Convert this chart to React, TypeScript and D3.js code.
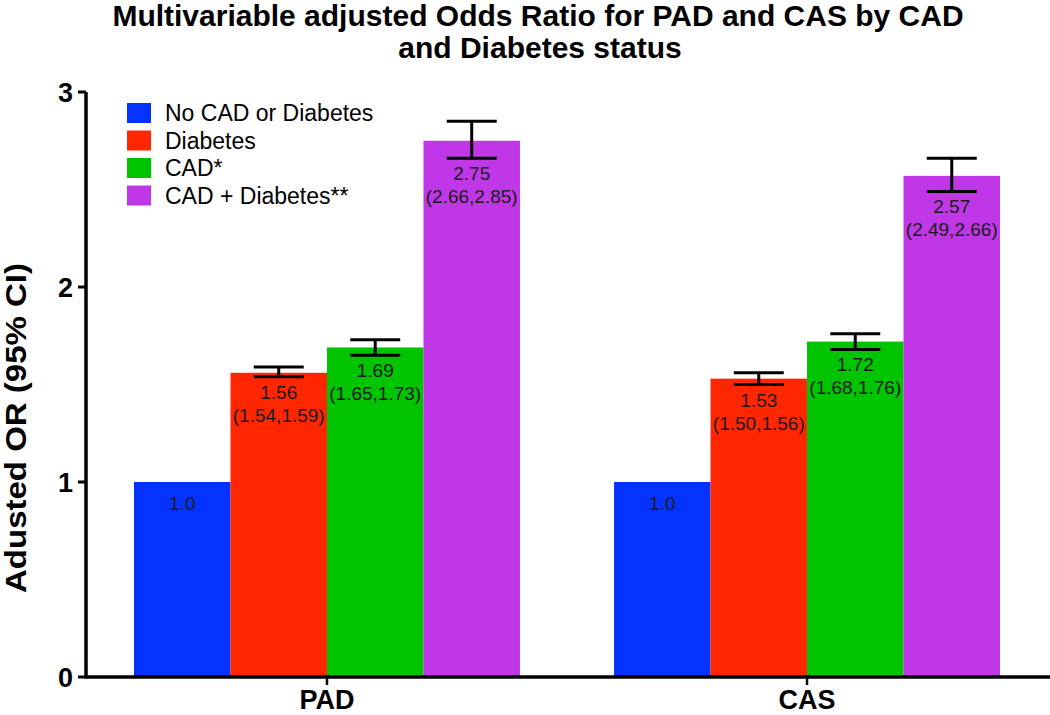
import { useMemo } from "react";
import * as d3 from "d3";

// Chart size and plot bounds
const WIDTH = 1050;
const HEIGHT = 715;
const MARGIN = { top: 92, right: 2, bottom: 38, left: 86 };
const FONT = "'Liberation Sans', Arial, sans-serif";

const GROUPS = ["PAD", "CAS"];
const SERIES = ["No CAD or Diabetes", "Diabetes", "CAD*", "CAD + Diabetes**"];
const COLORS = ["#0433ff", "#ff2600", "#00c400", "#bf37e6"];

// odds ratio per group, in series order
const PAD_OR = [1.0, 1.56, 1.69, 2.75];
const PAD_LOW = [null, 1.54, 1.65, 2.66];
const PAD_HIGH = [null, 1.59, 1.73, 2.85];
const CAS_OR = [1.0, 1.53, 1.72, 2.57];
const CAS_LOW = [null, 1.5, 1.68, 2.49];
const CAS_HIGH = [null, 1.56, 1.76, 2.66];

const Y_TICKS = [0, 1, 2, 3];

type Bar = {
  group: string;
  series: string;
  color: string;
  value: number;
  low: number | null;
  high: number | null;
};

const App = () => {
  const boundsWidth = WIDTH - MARGIN.left - MARGIN.right;
  const boundsHeight = HEIGHT - MARGIN.top - MARGIN.bottom;

  const bars: Bar[] = useMemo(() => {
    const rows = [
      { group: "PAD", or: PAD_OR, low: PAD_LOW, high: PAD_HIGH },
      { group: "CAS", or: CAS_OR, low: CAS_LOW, high: CAS_HIGH },
    ];
    return rows.flatMap((r) =>
      SERIES.map((s, i) => ({
        group: r.group,
        series: s,
        color: COLORS[i],
        value: r.or[i],
        low: r.low[i],
        high: r.high[i],
      }))
    );
  }, []);

  const xScale = d3
    .scaleBand()
    .domain(GROUPS)
    .range([0, boundsWidth])
    .paddingInner(0.196)
    .paddingOuter(0.1);
  const subScale = d3
    .scaleBand()
    .domain(SERIES)
    .range([0, xScale.bandwidth()]);
  const yScale = d3.scaleLinear().domain([0, 3]).range([boundsHeight, 0]);

  const fmt = (v: number) => (v === 1 ? "1.0" : v.toFixed(2));

  return (
    <div style={{ position: "absolute", left: 0, top: 0 }}>
      <svg width={WIDTH} height={HEIGHT} style={{ display: "block" }} fontFamily={FONT}>
        <rect width={WIDTH} height={HEIGHT} fill="white" />
        {/* Title */}
        <text x={538} y={26} textAnchor="middle" fontSize={30} fontWeight="bold">
          Multivariable adjusted Odds Ratio for PAD and CAS by CAD
        </text>
        <text x={540} y={58} textAnchor="middle" fontSize={30} fontWeight="bold">
          and Diabetes status
        </text>

        {/* Y axis title */}
        <text
          transform="translate(26, 428) rotate(-90)"
          textAnchor="middle"
          fontSize={29}
          fontWeight="bold"
          textLength={330}
          lengthAdjust="spacingAndGlyphs"
        >
          Adusted OR (95% CI)
        </text>

        <g transform={`translate(${MARGIN.left}, ${MARGIN.top})`}>
          {/* Bars */}
          {bars.map((b) => {
            const x = (xScale(b.group) ?? 0) + (subScale(b.series) ?? 0);
            const w = subScale.bandwidth();
            const cx = x + w / 2;
            const top = yScale(b.value);
            const labelY = b.low === null ? top + 28 : yScale(b.low) + 22;
            return (
              <g key={b.group + b.series}>
                <rect x={x} y={top} width={w} height={boundsHeight - top} fill={b.color} />
                {b.low !== null && b.high !== null && (
                  <g stroke="black" strokeWidth={3}>
                    <line x1={cx} x2={cx} y1={yScale(b.high)} y2={yScale(b.low)} />
                    <line x1={cx - 25} x2={cx + 25} y1={yScale(b.high)} y2={yScale(b.high)} />
                    <line x1={cx - 25} x2={cx + 25} y1={yScale(b.low)} y2={yScale(b.low)} />
                  </g>
                )}
                <text x={cx} y={labelY} textAnchor="middle" fontSize={19} fill="#1a1a1a">
                  {fmt(b.value)}
                </text>
                {b.low !== null && b.high !== null && (
                  <text x={cx} y={labelY + 23} textAnchor="middle" fontSize={19} fill="#1a1a1a">
                    ({fmt(b.low)},{fmt(b.high)})
                  </text>
                )}
              </g>
            );
          })}

          {/* Y axis */}
          <line x1={0} x2={0} y1={0} y2={boundsHeight + 1.5} stroke="black" strokeWidth={3.5} />
          {Y_TICKS.map((t) => (
            <g key={t} transform={`translate(0, ${yScale(t)})`}>
              <line x1={-8} x2={0} stroke="black" strokeWidth={3} />
              <text x={-13} dy="0.36em" textAnchor="end" fontSize={27} fontWeight="bold">
                {t}
              </text>
            </g>
          ))}

          {/* X axis */}
          <g transform={`translate(0, ${boundsHeight})`}>
            <line x1={0} x2={boundsWidth + MARGIN.right} stroke="black" strokeWidth={3.5} />
            {GROUPS.map((g) => {
              const cx = (xScale(g) ?? 0) + xScale.bandwidth() / 2;
              return (
                <g key={g} transform={`translate(${cx}, 0)`}>
                  <line y1={0} y2={8} stroke="black" strokeWidth={2.5} />
                  <text y={32} textAnchor="middle" fontSize={27} fontWeight="bold">
                    {g}
                  </text>
                </g>
              );
            })}
          </g>
        </g>

        {/* Legend */}
        <g transform="translate(127, 103)">
          {SERIES.map((s, i) => (
            <g key={s} transform={`translate(0, ${i * 27.5})`}>
              <rect width={24} height={20} fill={COLORS[i]} />
              <text x={38} y={18} fontSize={23}>
                {s}
              </text>
            </g>
          ))}
        </g>
      </svg>
    </div>
  );
};

export default App;
